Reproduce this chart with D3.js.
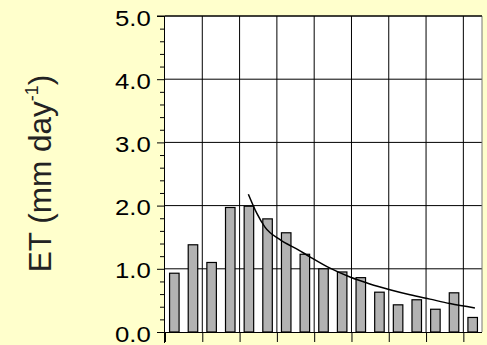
<!DOCTYPE html>
<html>
<head>
<meta charset="utf-8">
<script src="https://cdn.jsdelivr.net/npm/d3@7"></script>
<style>
  html, body { margin: 0; padding: 0; background: #ffffcc; }
  svg { display: block; }
  text { font-family: "Liberation Sans", Arial, Helvetica, sans-serif; }
</style>
</head>
<body>
<svg id="chart" width="487" height="345"></svg>
<script>
// ---- data ----
const categories = d3.range(1, 18);
const etValues = [0.93, 1.38, 1.10, 1.97, 1.99, 1.79, 1.57, 1.23, 1.00, 0.95, 0.86, 0.63, 0.43, 0.51, 0.36, 0.62, 0.23];
const curveX = [4.47, 4.92, 5.36, 6.17, 7.15, 7.77, 8.85, 9.92, 10.99, 12.06, 13.14, 14.21, 15.28, 16.62];
const curveY = [2.18, 1.88, 1.66, 1.46, 1.30, 1.19, 1.01, 0.87, 0.76, 0.67, 0.59, 0.52, 0.45, 0.38];
const yTicks = [0, 1, 2, 3, 4, 5];
const xGridTicks = [0, 2, 4, 6, 8, 10, 12, 14, 16];
const yLabel = "ET (mm day";
const yLabelSup = "-1";

// ---- layout ----
const svg = d3.select("#chart");
const mLeft = 165, mRight = 482, mTop = 16, mBottom = 332;

const x = d3.scaleBand().domain(categories).range([mLeft, mRight]).paddingInner(0.49).paddingOuter(0.245);
const xLin = d3.scaleLinear().domain([0, 17]).range([mLeft, mRight]);
const y = d3.scaleLinear().domain([0, 5]).range([mBottom, mTop]);

// plot background
svg.append("rect").attr("x", mLeft).attr("y", mTop).attr("width", mRight - mLeft).attr("height", mBottom - mTop).attr("fill", "#ffffff");

// grid
const grid = svg.append("g").attr("stroke", "#000").attr("stroke-width", 1);
grid.selectAll(".vg").data(xGridTicks.slice(1)).join("line")
  .attr("x1", d => xLin(d)).attr("x2", d => xLin(d)).attr("y1", mTop).attr("y2", mBottom);
grid.selectAll(".hg").data(yTicks.slice(1)).join("line")
  .attr("x1", mLeft).attr("x2", mRight).attr("y1", d => y(d)).attr("y2", d => y(d));
svg.append("line").attr("x1", mRight).attr("x2", mRight).attr("y1", mTop).attr("y2", mBottom).attr("stroke", "#777").attr("stroke-width", 1);

// bars
svg.append("g").selectAll("rect").data(etValues).join("rect")
  .attr("x", (d, i) => x(categories[i]))
  .attr("width", x.bandwidth())
  .attr("y", d => y(d))
  .attr("height", d => y(0) - y(d))
  .attr("fill", "#b2b2b2").attr("stroke", "#000").attr("stroke-width", 1.2);

// fitted curve
const pts = curveX.map((cx, i) => [cx, curveY[i]]);
svg.append("path").datum(pts)
  .attr("fill", "none").attr("stroke", "#000").attr("stroke-width", 1.5)
  .attr("d", d3.line().x(d => xLin(d[0])).y(d => y(d[1])).curve(d3.curveMonotoneX));

// y minor ticks
const minor = d3.range(0, 5.001, 0.2).filter(v => Math.abs(v - Math.round(v)) > 1e-6);
svg.append("g").attr("transform", `translate(${mLeft},0)`)
  .call(d3.axisLeft(y).tickValues(minor).tickSize(5).tickFormat(""))
  .call(g => g.select(".domain").remove())
  .selectAll("line").attr("stroke", "#000");

// y major axis
const yAxis = svg.append("g").attr("transform", `translate(${mLeft},0)`)
  .call(d3.axisLeft(y).tickValues(yTicks).tickSize(8).tickPadding(6).tickFormat(d3.format(".1f")));
yAxis.select(".domain").attr("stroke", "#000").attr("d", `M-0.5,${mTop}V${mBottom + 11}`);
yAxis.selectAll("line").attr("stroke", "#000");
yAxis.selectAll("text")
  .attr("font-family", '"Liberation Sans", Arial, sans-serif')
  .attr("font-size", 22).attr("fill", "#000")
  .attr("x", -14.3 / 1.17).attr("dy", 9)
  .attr("transform", "scale(1.17,1)");

// x axis (no labels)
const xAxis = svg.append("g").attr("transform", `translate(0,${mBottom})`)
  .call(d3.axisBottom(xLin).tickValues(xGridTicks).tickSize(10).tickFormat(""));
xAxis.select(".domain").attr("stroke", "#000").attr("d", `M${mLeft},0.5H${mRight}`);
xAxis.selectAll("line").attr("stroke", "#000");

// top border
svg.append("line").attr("x1", mLeft - 8).attr("x2", mRight).attr("y1", mTop).attr("y2", mTop).attr("stroke", "#000");

// y label
const lab = svg.append("text")
  .attr("transform", "translate(50.5,173.5) rotate(-90)")
  .attr("text-anchor", "middle")
  .attr("font-size", 31.5).attr("fill", "#222");
lab.append("tspan").text(yLabel);
lab.append("tspan").attr("font-size", 18).attr("dy", -12.5).text(yLabelSup);
lab.append("tspan").attr("dy", 12.5).text(")");
</script>
</body>
</html>
